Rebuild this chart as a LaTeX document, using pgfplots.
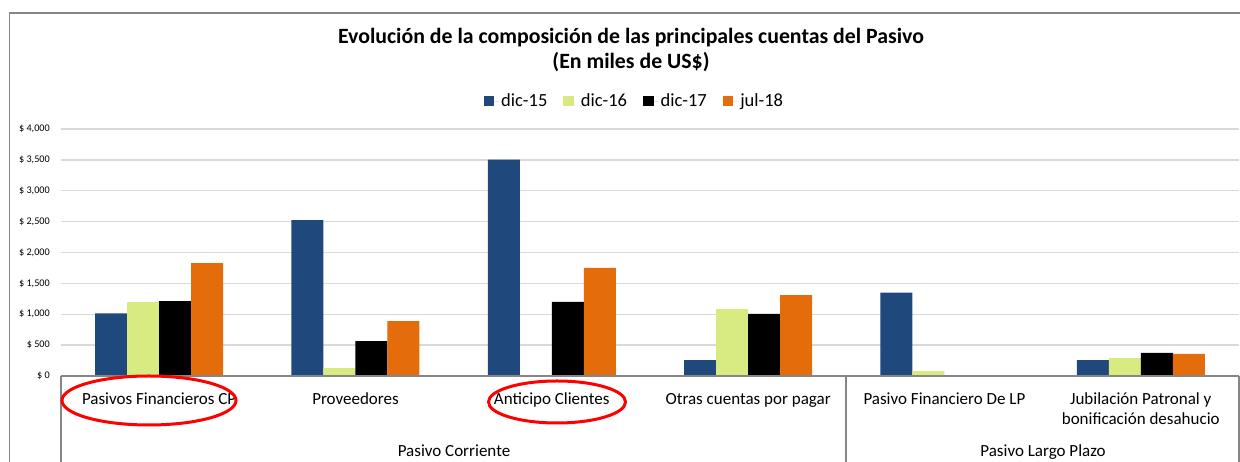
\documentclass[border=0pt]{standalone}
\usepackage{fontspec}
\setmainfont{Carlito}
\usepackage{pgfplots}
\pgfplotsset{compat=1.18}
\definecolor{cBlue}{RGB}{31,73,125}
\definecolor{cGreen}{RGB}{215,235,128}
\definecolor{cBlack}{RGB}{0,0,0}
\definecolor{cOrange}{RGB}{228,108,10}
\definecolor{gridc}{RGB}{217,217,217}
\definecolor{framec}{RGB}{134,134,134}
\begin{document}
\begin{tikzpicture}[x=1pt,y=1pt]
\useasboundingbox (0,0) rectangle (1240,462);
% outer frame
\draw[framec, line width=1.3pt] (9.5,0) -- (9.5,449) -- (1240,449);
\begin{axis}[
  at={(61pt,86pt)}, anchor=south west,
  scale only axis, width=1178pt, height=247pt,
  xmin=-0.5, xmax=5.5, ymin=0, ymax=4000,
  ybar=0pt, bar width=32pt,
  axis line style={draw=none},
  major tick length=0pt,
  xtick={0,1,2,3,4,5},
  xticklabels={Pasivos Financieros CP, Proveedores, Anticipo Clientes, Otras cuentas por pagar, Pasivo Financiero De LP, {\begin{tabular}[t]{@{}c@{}}Jubilación Patronal y\\bonificación desahucio\end{tabular}}},
  xticklabel style={font=\fontsize{17}{20}\selectfont, anchor=base, yshift=-29pt, inner sep=0pt},
  ytick={0,500,1000,1500,2000,2500,3000,3500,4000},
  scaled y ticks=false,
  ymajorgrids, grid style={gridc, line width=1.3pt},
  yticklabel={\$ \pgfmathprintnumber[assume math mode=true,1000 sep={,}]{\tick}},
  yticklabel style={font=\fontsize{10.2}{12}\selectfont, anchor=east, inner sep=0pt, xshift=-11pt},
  legend columns=-1,
  legend style={at={(0.4868,1.113)}, anchor=center, draw=none, fill=none,
    font=\fontsize{18.5}{22}\selectfont,
    /tikz/every even column/.append style={column sep=14pt}},
]
\addplot[fill=cBlue, draw=none, legend image code/.code={\fill[cBlue] (0pt,-5.25pt) rectangle (10.5pt,5.25pt); \path (0pt,0pt) -- (15.5pt,0pt);}]
  coordinates {(0,1015) (1,2525) (2,3505) (3,255) (4,1350) (5,258)};
\addlegendentry{dic-15}
\addplot[fill=cGreen, draw=none, legend image code/.code={\fill[cGreen] (0pt,-5.25pt) rectangle (10.5pt,5.25pt); \path (0pt,0pt) -- (15.5pt,0pt);}]
  coordinates {(0,1197) (1,128) (2,0) (3,1082) (4,80) (5,290)};
\addlegendentry{dic-16}
\addplot[fill=cBlack, draw=none, legend image code/.code={\fill[cBlack] (0pt,-5.25pt) rectangle (10.5pt,5.25pt); \path (0pt,0pt) -- (15.5pt,0pt);}]
  coordinates {(0,1214) (1,566) (2,1200) (3,1008) (4,0) (5,373)};
\addlegendentry{dic-17}
\addplot[fill=cOrange, draw=none, legend image code/.code={\fill[cOrange] (0pt,-5.25pt) rectangle (10.5pt,5.25pt); \path (0pt,0pt) -- (15.5pt,0pt);}]
  coordinates {(0,1828) (1,890) (2,1750) (3,1308) (4,0) (5,357)};
\addlegendentry{jul-18}
\end{axis}
% category axis lines
\draw[framec, line width=1.3pt] (61,86) -- (1239,86);
\draw[framec, line width=1.3pt] (61,86) -- (61,0);
\draw[framec, line width=1.3pt] (846,86) -- (846,0);
\draw[framec, line width=1.3pt] (1239,86) -- (1239,0);
% group labels
\node[anchor=base, inner sep=0pt, font=\fontsize{17}{20}\selectfont] at (454,5) {Pasivo Corriente};
\node[anchor=base, inner sep=0pt, font=\fontsize{17}{20}\selectfont] at (1043,5) {Pasivo Largo Plazo};
% title
\node[anchor=base, inner sep=0pt, font=\bfseries\fontsize{21.8}{26}\selectfont] at (631,418) {Evolución de la composición de las principales cuentas del Pasivo};
\node[anchor=base, inner sep=0pt, font=\bfseries\fontsize{21.8}{26}\selectfont] at (631,393) {(En miles de US\$)};
% red annotation ellipses
\draw[red, line width=3pt] (149,61.5) ellipse [x radius=87, y radius=24.5];
\draw[red, line width=3pt] (557,60) ellipse [x radius=68.5, y radius=21];
\end{tikzpicture}
\end{document}
